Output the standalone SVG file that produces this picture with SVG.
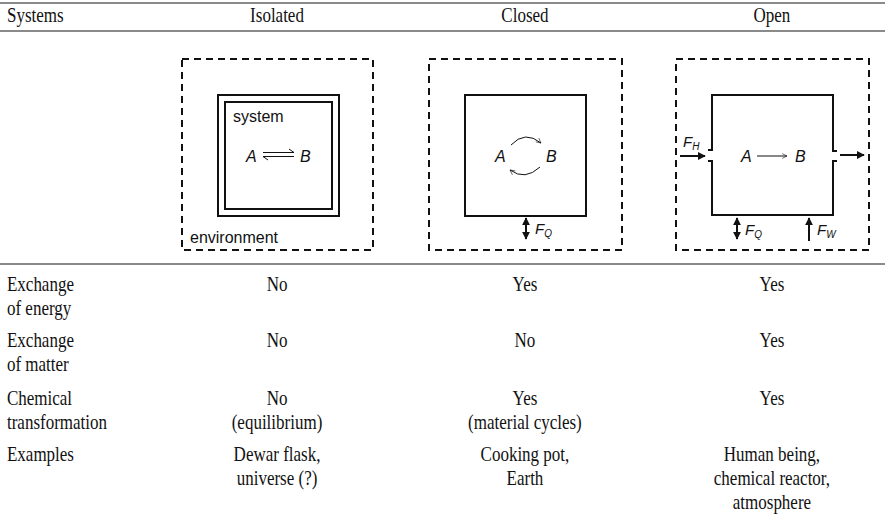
<svg xmlns="http://www.w3.org/2000/svg" width="885" height="532" viewBox="0 0 885 532">
<defs>
<style>
.t{font-family:"Liberation Serif","Times New Roman",serif;font-size:20px;fill:#111}
.c{text-anchor:middle}
.s{font-family:"Liberation Sans",Arial,sans-serif;font-size:16px;fill:#111}
.f{font-family:"Liberation Sans",Arial,sans-serif;font-size:15px;fill:#111}
.i{font-style:italic}
.rule{stroke:#8a8a8a;stroke-width:2}
.dash{fill:none;stroke:#111;stroke-width:2;stroke-dasharray:7,5}
.box{fill:none;stroke:#111;stroke-width:2}
.thin{fill:none;stroke:#111;stroke-width:1}
.thick{fill:none;stroke:#111;stroke-width:2}
</style>
<marker id="fh" viewBox="0 0 10 10" refX="9" refY="5" markerWidth="4" markerHeight="4" orient="auto-start-reverse" markerUnits="strokeWidth">
<path d="M0,0 L10,5 L0,10 Z" fill="#111"/>
</marker>
<marker id="oh" viewBox="0 0 10 10" refX="9" refY="5" markerWidth="6" markerHeight="6" orient="auto" markerUnits="strokeWidth">
<path d="M1,1 L9,5 L1,9" fill="none" stroke="#111" stroke-width="1"/>
</marker>
</defs>
<rect width="885" height="532" fill="#fff"/>

<g id="rules">
<line class="rule" x1="0" y1="3" x2="885" y2="3"/>
<line class="rule" x1="0" y1="31" x2="885" y2="31"/>
<line class="rule" x1="0" y1="264" x2="885" y2="264"/>
</g>

<g id="header" transform="scale(0.85,1)">
<text class="t" x="8.2" y="22">Systems</text>
<text class="t c" x="325.9" y="22">Isolated</text>
<text class="t c" x="617.6" y="22">Closed</text>
<text class="t c" x="908.2" y="22">Open</text>
</g>

<g id="isolated">
<rect class="dash" x="182" y="59" width="191" height="191"/>
<rect class="box" x="218" y="95" width="121" height="121"/>
<rect class="box" x="225" y="102" width="107" height="107"/>
<text class="s" x="233" y="122">system</text>
<text class="s i" x="246" y="162">A</text>
<path class="thin" d="M263,152.5 H294 L289,149"/>
<path class="thin" d="M294,156.5 H263 L268,160"/>
<text class="s i" x="300" y="162">B</text>
<text class="s" x="190" y="243">environment</text>
</g>

<g id="closed">
<rect class="dash" x="429" y="59" width="193" height="191"/>
<rect class="box" x="465" y="95" width="121" height="121"/>
<text class="s i" x="495" y="162">A</text>
<text class="s i" x="546" y="162">B</text>
<text class="f i" x="535" y="234">F<tspan font-size="10" dy="3">Q</tspan></text>
</g>

<g id="open">
<rect class="dash" x="676" y="59" width="193" height="191"/>
<path class="box" d="M708,150 H712 V95 H833 V151 H837"/>
<path class="box" d="M708,161 H712 V215 H833 V161 H837"/>
<text class="s i" x="741" y="162">A</text>
<text class="s i" x="795" y="162">B</text>
<text class="f i" x="683" y="147">F<tspan font-size="10" dy="3">H</tspan></text>
<text class="f i" x="745" y="235">F<tspan font-size="10" dy="3">Q</tspan></text>
<text class="f i" x="817" y="235">F<tspan font-size="10" dy="3">W</tspan></text>
</g>

<g id="connectors">
<path class="thin" d="M511,145 Q525,130 541,143" marker-end="url(#oh)"/>
<path class="thin" d="M540,167 Q525,181 510,170" marker-end="url(#oh)"/>
<line class="thick" x1="526" y1="218" x2="526" y2="239" marker-start="url(#fh)" marker-end="url(#fh)"/>
<line class="thin" x1="757" y1="156" x2="787" y2="156" marker-end="url(#oh)"/>
<line class="thick" x1="680" y1="156" x2="705" y2="156" marker-end="url(#fh)"/>
<line class="thick" x1="840" y1="155" x2="864" y2="155" marker-end="url(#fh)"/>
<line class="thick" x1="737" y1="218" x2="737" y2="239" marker-start="url(#fh)" marker-end="url(#fh)"/>
<line class="thick" x1="809" y1="241" x2="809" y2="218" marker-end="url(#fh)"/>
</g>

<g id="table" transform="scale(0.85,1)">
<text class="t" x="8.2" y="291">Exchange</text>
<text class="t" x="8.2" y="315">of energy</text>
<text class="t c" x="325.9" y="291">No</text>
<text class="t c" x="617.6" y="291">Yes</text>
<text class="t c" x="908.2" y="291">Yes</text>
<text class="t" x="8.2" y="347">Exchange</text>
<text class="t" x="8.2" y="371">of matter</text>
<text class="t c" x="325.9" y="347">No</text>
<text class="t c" x="617.6" y="347">No</text>
<text class="t c" x="908.2" y="347">Yes</text>
<text class="t" x="8.2" y="405">Chemical</text>
<text class="t" x="8.2" y="429">transformation</text>
<text class="t c" x="325.9" y="405">No</text>
<text class="t c" x="325.9" y="429">(equilibrium)</text>
<text class="t c" x="617.6" y="405">Yes</text>
<text class="t c" x="617.6" y="429">(material cycles)</text>
<text class="t c" x="908.2" y="405">Yes</text>
<text class="t" x="8.2" y="461">Examples</text>
<text class="t c" x="325.9" y="461">Dewar flask,</text>
<text class="t c" x="325.9" y="485">universe (?)</text>
<text class="t c" x="617.6" y="461">Cooking pot,</text>
<text class="t c" x="617.6" y="485">Earth</text>
<text class="t c" x="908.2" y="461">Human being,</text>
<text class="t c" x="908.2" y="485">chemical reactor,</text>
<text class="t c" x="908.2" y="509">atmosphere</text>
</g>
</svg>
